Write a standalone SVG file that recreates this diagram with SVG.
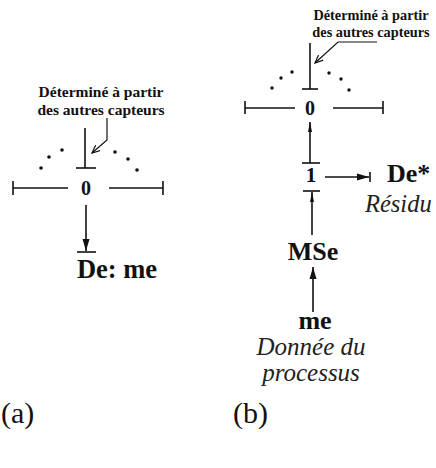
<svg xmlns="http://www.w3.org/2000/svg" width="436" height="468" viewBox="0 0 436 468">
<defs>
<marker id="arr" markerUnits="userSpaceOnUse" markerWidth="12" markerHeight="8" refX="12" refY="4" orient="auto"><path d="M0,0.5 L12,4 L0,7.5 z" fill="#111"/></marker>
<marker id="arrs" markerUnits="userSpaceOnUse" markerWidth="10" markerHeight="5" refX="10" refY="2.5" orient="auto"><path d="M0,0.5 L10,2.5 L0,4.5 z" fill="#111"/></marker>
<marker id="lead" markerUnits="userSpaceOnUse" markerWidth="9" markerHeight="8" refX="8" refY="4" orient="auto"><path d="M0,0.5 L8,4 L0,7.5" fill="none" stroke="#111" stroke-width="1.2"/></marker>
</defs>
<style>
.b{font-family:"Liberation Serif","Times New Roman",serif;font-weight:bold;fill:#111}
.i{font-family:"Liberation Serif","Times New Roman",serif;font-style:italic;fill:#222}
.r{font-family:"Liberation Serif","Times New Roman",serif;fill:#111}
.c{text-anchor:middle}
.ln{stroke:#111;stroke-width:1.6;fill:none}
.th{stroke:#111;stroke-width:1.2;fill:none}
.dot{fill:#111}
</style>

<g id="a-note">
<text class="b c" x="101" y="97" font-size="15.5">Déterminé à partir</text>
<text class="b c" x="101" y="114.5" font-size="15.5">des autres capteurs</text>
</g>
<g id="a-node0">
<text class="b c" x="86" y="195" font-size="20">0</text>
<circle class="dot" cx="41" cy="168" r="1.8"/>
<circle class="dot" cx="49" cy="157" r="1.8"/>
<circle class="dot" cx="62" cy="150" r="1.8"/>
<circle class="dot" cx="115" cy="152" r="1.8"/>
<circle class="dot" cx="128" cy="159" r="1.8"/>
<circle class="dot" cx="137" cy="170" r="1.8"/>
</g>
<g id="a-out">
<text class="b c" x="117" y="278" font-size="26.5">De: me</text>
</g>
<g id="a-label">
<text class="r" x="1" y="423" font-size="30">(a)</text>
</g>

<g id="b-note">
<text class="b c" x="371" y="20" font-size="14.3">Déterminé à partir</text>
<text class="b c" x="371" y="37" font-size="14.3">des autres capteurs</text>
</g>
<g id="b-node0">
<text class="b c" x="310" y="115" font-size="20">0</text>
<circle class="dot" cx="272" cy="88" r="1.7"/>
<circle class="dot" cx="281" cy="78" r="1.7"/>
<circle class="dot" cx="292" cy="72" r="1.7"/>
<circle class="dot" cx="329" cy="73" r="1.7"/>
<circle class="dot" cx="341" cy="79" r="1.7"/>
<circle class="dot" cx="349" cy="90" r="1.7"/>
</g>
<g id="b-node1">
<text class="b c" x="311" y="182" font-size="21">1</text>
</g>
<g id="b-res">
<text class="b" x="387" y="182" font-size="26">De*</text>
<text class="i" x="365" y="212" font-size="24.5">Résidu</text>
</g>
<g id="b-mse">
<text class="b c" x="313" y="260" font-size="26">MSe</text>
</g>
<g id="b-me">
<text class="b c" x="315" y="329" font-size="26">me</text>
<text class="i c" x="311" y="355" font-size="25">Donnée du</text>
<text class="i c" x="311" y="381" font-size="25">processus</text>
</g>
<g id="b-label">
<text class="r" x="233" y="423" font-size="30">(b)</text>
</g>

<g id="connectors">
<!-- (a) -->
<line class="ln" x1="85" y1="128" x2="85" y2="168"/>
<line class="ln" x1="76" y1="168" x2="96" y2="168"/>
<polyline class="th" points="107,118 107,140 92,153" marker-end="url(#lead)"/>
<line class="ln" x1="13" y1="188" x2="68" y2="188"/>
<line class="ln" x1="13" y1="181" x2="13" y2="195"/>
<line class="ln" x1="109" y1="188" x2="163" y2="188"/>
<line class="ln" x1="163" y1="181" x2="163" y2="195"/>
<line class="ln" x1="86" y1="205" x2="86" y2="251" marker-end="url(#arr)"/>
<line class="ln" x1="77" y1="252" x2="96" y2="252"/>
<!-- (b) -->
<polyline class="th" points="377,42 338,42 315,63" marker-end="url(#lead)"/>
<line class="ln" x1="310" y1="43" x2="310" y2="89"/>
<line class="ln" x1="302" y1="89" x2="318" y2="89"/>
<line class="ln" x1="245" y1="108" x2="295" y2="108"/>
<line class="ln" x1="245" y1="101" x2="245" y2="114"/>
<line class="ln" x1="333" y1="108" x2="383" y2="108"/>
<line class="ln" x1="383" y1="101" x2="383" y2="114"/>
<line class="ln" x1="310" y1="163" x2="310" y2="122" marker-end="url(#arrs)"/>
<line class="ln" x1="302" y1="163" x2="320" y2="163"/>
<line class="ln" x1="325" y1="177" x2="369" y2="177" marker-end="url(#arr)"/>
<line class="ln" x1="370" y1="172" x2="370" y2="182"/>
<line class="ln" x1="303" y1="191" x2="320" y2="191"/>
<line class="ln" x1="312" y1="235" x2="312" y2="192" marker-end="url(#arrs)"/>
<line class="ln" x1="313" y1="312" x2="313" y2="267" marker-end="url(#arr)"/>
</g>
</svg>
